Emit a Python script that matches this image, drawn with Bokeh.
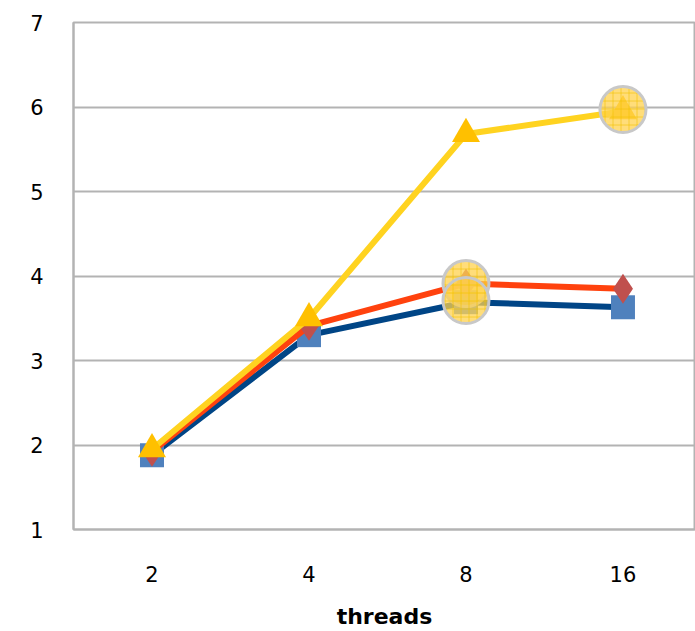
from bokeh.plotting import figure
from bokeh.models import FixedTicker, ColumnDataSource, Range1d
from bokeh.embed import file_html
from bokeh.resources import INLINE

# speedup by thread count
threads = ["2", "4", "8", "16"]
series_a = [1.88, 3.30, 3.69, 3.63]   # squares
series_b = [1.92, 3.41, 3.91, 3.85]   # diamonds
series_c = [1.95, 3.50, 5.68, 5.95]   # triangles

# highlighted points: (thread index, value)
highlight_idx = [2, 2, 3]
highlight_val = [3.91, 3.71, 5.97]

xs = list(range(1, len(threads) + 1))

p = figure(width=695, height=631, output_backend="svg", toolbar_location=None,
           x_range=Range1d(0.5, 4.462), y_range=Range1d(1, 7),
           min_border_left=73, min_border_right=0, min_border_top=22,
           min_border_bottom=102)
p.outline_line_color = "#b3b3b3"
p.outline_line_width = 2
p.background_fill_color = "white"
p.border_fill_color = "white"

FONT = "DejaVu Sans"

p.yaxis.ticker = FixedTicker(ticks=[1, 2, 3, 4, 5, 6, 7])
p.yaxis.axis_line_color = "#b3b3b3"
p.yaxis.axis_line_width = 2
p.yaxis.major_tick_line_color = None
p.yaxis.major_tick_out = 0
p.yaxis.major_tick_in = 0
p.yaxis.minor_tick_line_color = None
p.yaxis.major_label_text_font = FONT
p.yaxis.major_label_text_font_size = "21px"
p.yaxis.major_label_text_color = "black"
p.yaxis.major_label_standoff = 30

p.xaxis.ticker = FixedTicker(ticks=xs)
p.xaxis.major_label_overrides = {x: t for x, t in zip(xs, threads)}
p.xaxis.axis_line_color = "#b3b3b3"
p.xaxis.axis_line_width = 2
p.xaxis.major_tick_line_color = None
p.xaxis.major_tick_out = 0
p.xaxis.major_tick_in = 0
p.xaxis.minor_tick_line_color = None
p.xaxis.major_label_text_font = FONT
p.xaxis.major_label_text_font_size = "21px"
p.xaxis.major_label_text_color = "black"
p.xaxis.major_label_standoff = 36
p.xaxis.axis_label = "threads"
p.xaxis.axis_label_text_font = FONT
p.xaxis.axis_label_text_font_style = "bold"
p.xaxis.axis_label_text_font_size = "22px"
p.xaxis.axis_label_text_color = "black"
p.xaxis.axis_label_standoff = 19

p.xgrid.grid_line_color = None
p.ygrid.ticker = FixedTicker(ticks=[2, 3, 4, 5, 6])
p.ygrid.grid_line_color = "#b3b3b3"
p.ygrid.grid_line_width = 2

# series A: dark blue line, blue squares
p.line(xs, series_a, line_color="#004586", line_width=6)
p.scatter(xs, series_a, marker="square", size=24, fill_color="#4f81bd",
          line_color=None)

# series B: orange-red line, red diamonds
p.line(xs, series_b, line_color="#ff420e", line_width=6)
p.scatter(xs, series_b, marker="diamond", size=30, fill_color="#c0504d",
          line_color=None)

# series C: yellow line, yellow triangles
p.line(xs, series_c, line_color="#ffd320", line_width=6)
p.scatter(xs, series_c, marker="triangle", size=28, fill_color="#ffc000",
          line_color=None)

# highlight rings
hl = ColumnDataSource(dict(x=[xs[i] for i in highlight_idx], y=highlight_val))
p.scatter("x", "y", source=hl, marker="circle", size=46,
          fill_color="#ffd24d", fill_alpha=0.75,
          hatch_pattern="+", hatch_color="#f2c200", hatch_alpha=0.6,
          hatch_scale=8, hatch_weight=1,
          line_color="#c8c8c8", line_width=3)

open("out.html", "w").write(file_html(p, INLINE))
